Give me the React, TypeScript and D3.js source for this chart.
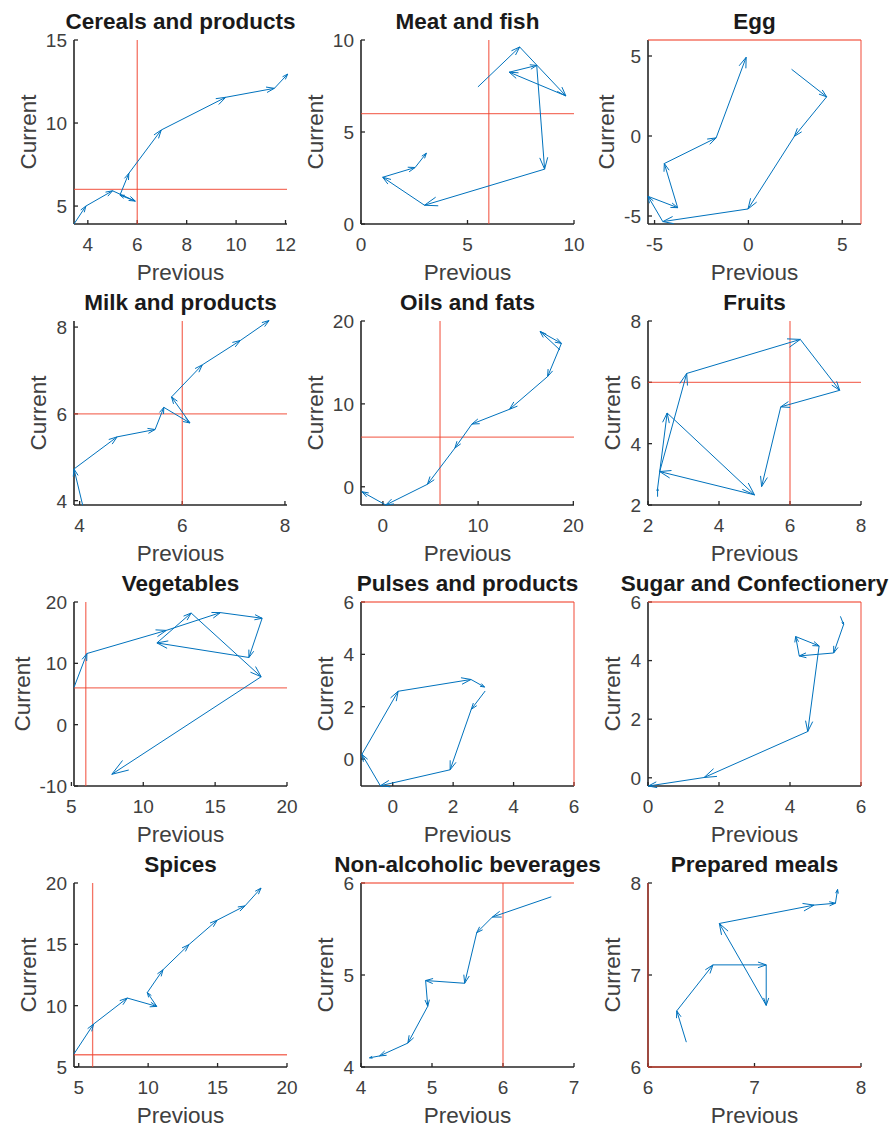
import React from "react";
import * as d3 from "d3";

// ---- data: each panel is a series; points are (previous, current) = (v[i], v[i+1])
const titles = [
  "Cereals and products",
  "Meat and fish",
  "Egg",
  "Milk and products",
  "Oils and fats",
  "Fruits",
  "Vegetables",
  "Pulses and products",
  "Sugar and Confectionery",
  "Spices",
  "Non-alcoholic beverages",
  "Prepared meals",
];

const cereals = [3.44, 3.92, 5.0, 5.92, 5.3, 5.66, 6.97, 9.58, 11.55, 12.09, 12.95];
const meatFish = [5.49, 7.45, 9.62, 6.96, 8.25, 8.62, 2.98, 1.02, 2.54, 3.07, 3.85];
const egg = [2.3, 4.17, 2.45, -0.02, -4.56, -5.35, -3.77, -4.48, -1.72, -0.12, 4.92];
const milk = [4.06, 3.89, 4.73, 5.47, 5.64, 6.15, 5.79, 6.39, 7.13, 7.69, 8.15];
const oilsFats = [18.6, 16.5, 18.75, 17.3, 13.3, 9.35, 7.57, 4.68, 0.3, -2.2, -0.6];
const fruits = [2.27, 2.27, 2.54, 5.0, 2.33, 3.09, 6.29, 7.4, 5.74, 5.2, 2.6];
const vegetables = [5.18, 6.08, 11.6, 15.37, 18.27, 17.35, 10.95, 13.33, 18.2, 7.81, -8.09];
const pulses = [3.06, 2.6, 1.9, -0.41, -1.02, 0.18, 2.59, 3.04, 2.75];
const sugar = [5.42, 5.51, 5.23, 4.26, 4.16, 4.82, 4.5, 1.58, 0.01, -0.28];
const spices = [4.66, 6.07, 8.5, 10.62, 9.94, 11.07, 12.93, 14.97, 16.97, 18.13, 19.59];
const beverages = [6.68, 5.85, 5.63, 5.46, 4.91, 4.94, 4.66, 4.26, 4.12, 4.1];
const prepared = [6.36, 6.27, 6.61, 7.11, 7.11, 6.67, 7.56, 7.76, 7.78, 7.93];

const series = [cereals, meatFish, egg, milk, oilsFats, fruits, vegetables, pulses, sugar, spices, beverages, prepared];

const xDomains = [
  [3.44, 12.06], [0, 10], [-5.35, 6],
  [3.89, 8.04], [-2.3, 20.07], [2, 8],
  [5.18, 20], [-1.05, 6], [0, 6],
  [4.66, 20], [4, 7], [6, 8],
];
const yDomains = [
  [3.92, 15], [0, 10], [-5.5, 6],
  [3.9, 8.14], [-2.2, 20], [2, 8],
  [-10, 20], [-1.03, 6], [-0.28, 6],
  [5, 20], [4, 6], [6, 8],
];
const xTicks = [
  [4, 6, 8, 10, 12], [0, 5, 10], [-5, 0, 5],
  [4, 6, 8], [0, 10, 20], [2, 4, 6, 8],
  [5, 10, 15, 20], [0, 2, 4, 6], [0, 2, 4, 6],
  [5, 10, 15, 20], [4, 5, 6, 7], [6, 7, 8],
];
const yTicks = [
  [5, 10, 15], [0, 5, 10], [-5, 0, 5],
  [4, 6, 8], [0, 10, 20], [2, 4, 6, 8],
  [-10, 0, 10, 20], [0, 2, 4, 6], [0, 2, 4, 6],
  [5, 10, 15, 20], [4, 5, 6], [6, 7, 8],
];
const threshold = 6;

// ---- layout
const W = 895;
const H = 1126;
const left0 = 74;
const colStep = 287;
const top0 = 40;
const rowStep = 281;
const pw = 213;
const ph = 184;
const FONT = "'Liberation Sans', Arial, Helvetica, sans-serif";
const tickFs = 19;
const labelFs = 22.5;
const titleFs = 22.5;
const axisColor = "#262626";
const textColor = "#404040";
const blue = "#0072BD";
const red = "rgb(240,70,50)";

function approxWidth(s: string, fs: number) {
  let w = 0;
  for (const ch of s) {
    if (ch === "-") w += 0.333;
    else if (ch === ".") w += 0.278;
    else w += 0.556;
  }
  return w * fs;
}

function Panel({ idx }: { idx: number }) {
  const col = idx % 3;
  const row = Math.floor(idx / 3);
  const x0 = left0 + col * colStep;
  const y0 = top0 + row * rowStep;
  const xs = d3.scaleLinear().domain(xDomains[idx]).range([x0, x0 + pw]);
  const ys = d3.scaleLinear().domain(yDomains[idx]).range([y0 + ph, y0]);
  const v = series[idx];
  const pts = d3.range(v.length - 1).map((i) => [xs(v[i]), ys(v[i + 1])]);

  const arrows: string[] = [];
  for (let i = 0; i < pts.length - 1; i++) {
    const [ax, ay] = pts[i];
    const [bx, by] = pts[i + 1];
    const dx = bx - ax;
    const dy = by - ay;
    const len = Math.hypot(dx, dy);
    if (len < 0.01) continue;
    const head = Math.min(0.3 * len, 5 + 0.07 * len);
    const ang = Math.atan2(dy, dx);
    const a = (19 * Math.PI) / 180;
    const p = d3.path();
    p.moveTo(ax, ay);
    p.lineTo(bx, by);
    p.moveTo(bx - head * Math.cos(ang - a), by - head * Math.sin(ang - a));
    p.lineTo(bx, by);
    p.lineTo(bx - head * Math.cos(ang + a), by - head * Math.sin(ang + a));
    arrows.push(p.toString());
  }

  const yLabW = Math.max(...yTicks[idx].map((t) => approxWidth(String(t), tickFs)));
  const xd = xDomains[idx];
  const yd = yDomains[idx];
  const showV = threshold >= xd[0] - 1e-9 && threshold <= xd[1] + 1e-9;
  const showH = threshold >= yd[0] - 1e-9 && threshold <= yd[1] + 1e-9;

  return (
    <g>
      {/* axes */}
      <line x1={x0} y1={y0 + ph} x2={x0 + pw} y2={y0 + ph} stroke={axisColor} strokeWidth={1.6} />
      <line x1={x0} y1={y0} x2={x0} y2={y0 + ph} stroke={axisColor} strokeWidth={1.6} />
      {xTicks[idx].map((t) => (
        <g key={"xt" + t}>
          <line x1={xs(t)} x2={xs(t)} y1={y0 + ph} y2={y0 + ph - 4} stroke={axisColor} strokeWidth={1.3} />
          <text x={xs(t)} y={y0 + ph + 26.5} textAnchor="middle" fontSize={tickFs} fill={textColor} fontFamily={FONT}>
            {String(t)}
          </text>
        </g>
      ))}
      {yTicks[idx].map((t) => (
        <g key={"yt" + t}>
          <line x1={x0} x2={x0 + 4} y1={ys(t)} y2={ys(t)} stroke={axisColor} strokeWidth={1.3} />
          <text x={x0 - 7} y={ys(t)} dy="0.36em" textAnchor="end" fontSize={tickFs} fill={textColor} fontFamily={FONT}>
            {String(t)}
          </text>
        </g>
      ))}
      {/* threshold lines */}
      {showV && (
        <line x1={xs(threshold)} x2={xs(threshold)} y1={y0} y2={y0 + ph} stroke={red} strokeOpacity={0.75} strokeWidth={1.3} />
      )}
      {showH && (
        <line x1={x0} x2={x0 + pw} y1={ys(threshold)} y2={ys(threshold)} stroke={red} strokeOpacity={0.75} strokeWidth={1.3} />
      )}
      {/* arrows */}
      {arrows.map((d, i) => (
        <path key={i} d={d} fill="none" stroke={blue} strokeWidth={1} strokeLinejoin="miter" />
      ))}
      {/* labels */}
      <text x={x0 + pw / 2} y={y0 + ph + 56} textAnchor="middle" fontSize={labelFs} fill={textColor} fontFamily={FONT}>
        Previous
      </text>
      <text
        transform={`translate(${x0 - yLabW - 17},${y0 + ph / 2}) rotate(-90)`}
        textAnchor="middle"
        fontSize={labelFs}
        fill={textColor}
        fontFamily={FONT}
      >
        Current
      </text>
      <text x={x0 + pw / 2} y={y0 - 11.5} textAnchor="middle" fontSize={titleFs} fontWeight="bold" fill="#1a1a1a" fontFamily={FONT}>
        {titles[idx]}
      </text>
    </g>
  );
}

export default function App() {
  return (
    <svg width={W} height={H} style={{ position: "absolute", left: 0, top: 0, background: "#fff" }}>
      <rect x={0} y={0} width={W} height={H} fill="#fff" />
      {titles.map((_, i) => (
        <Panel key={i} idx={i} />
      ))}
    </svg>
  );
}
